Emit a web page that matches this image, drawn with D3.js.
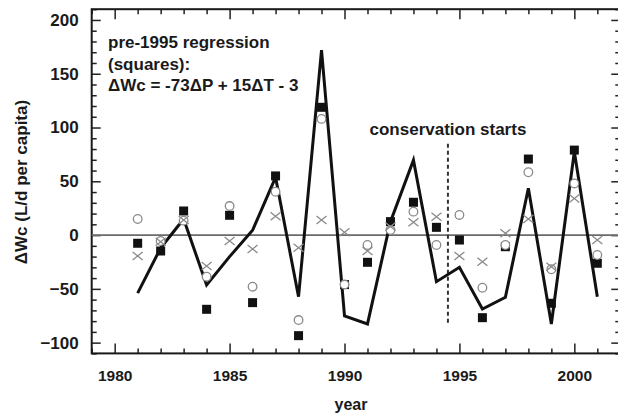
<!DOCTYPE html>
<html>
<head>
<meta charset="utf-8">
<script src="https://cdn.jsdelivr.net/npm/d3@7/dist/d3.min.js"></script>
<style>
  html, body { margin: 0; padding: 0; background: #fff; }
  svg { display: block; }
  text { font-family: "Liberation Sans", Arial, sans-serif; font-weight: bold; fill: #1a1a1a; }
</style>
</head>
<body>
<svg id="chart" width="618" height="415"></svg>
<script>
const years = [1981,1982,1983,1984,1985,1986,1987,1988,1989,1990,1991,1992,1993,1994,1995,1996,1997,1998,1999,2000,2001];
const squares = [-7.6,-14.8,22.4,-69,18.4,-62.8,55,-93.5,118.8,-46,-25.3,12.5,30.5,7.2,-4.6,-76.8,-10.8,70.7,-63.4,79,-26.2];
const circles = [15,-5.5,13.4,-38.7,27,-48,40.3,-79,108,-46,-9.2,4.7,21.8,-9.2,18.7,-48.9,-9.2,58.4,-31.8,48,-18.5];
const crosses = [-19.4,-6.1,14,-28.7,-5.5,-12.9,17.5,-11.7,14,2.6,-14.8,8,12,17,-19.4,-24.7,1.7,15,-29.4,34,-4.6];
const modelLine = [-54,-12,15,-46.4,-20,4.5,53.7,-57.3,172,-75.2,-82.6,12.5,69.7,-43.3,-30,-68.7,-57.8,43.5,-82.6,77.5,-57.3];
const xMajorTicks = [1980,1985,1990,1995,2000];
const yMajorTicks = [-100,-50,0,50,100,150,200];
const conservationYear = 1994.5;
const conservationSpan = [-84, 85];
const annotationLines = ["pre-1995 regression", "(squares):", "\u0394Wc = -73\u0394P + 15\u0394T - 3"];

const svg = d3.select("#chart");
const L = 91.7, R = 620.3, T = 9.2, B = 353.4;
const x = d3.scaleLinear().domain([1979, 2002]).range([L, R]);
const y = d3.scaleLinear().domain([-110, 210]).range([B, T]);

const xMinor = d3.range(1979, 2003).filter(v => !xMajorTicks.includes(v));
const yMinor = d3.range(-110, 211, 10).filter(v => !yMajorTicks.includes(v));

function styleAxis(g) {
  g.select(".domain").remove();
  g.selectAll(".tick line").attr("stroke", "#222").attr("stroke-width", 1.5);
  g.selectAll(".tick text").style("font-size", "16px").attr("fill", "#1a1a1a");
}

// bottom
svg.append("g").attr("transform", `translate(0,${B})`)
  .call(d3.axisBottom(x).tickValues(xMajorTicks).tickFormat(d3.format("d")).tickSize(-10).tickPadding(17))
  .call(styleAxis)
  .call(g => g.selectAll(".tick text").style("font-size", "15.5px"));
svg.append("g").attr("transform", `translate(0,${B})`)
  .call(d3.axisBottom(x).tickValues(xMinor).tickFormat("").tickSize(-5))
  .call(styleAxis);
// top
svg.append("g").attr("transform", `translate(0,${T})`)
  .call(d3.axisTop(x).tickValues(xMajorTicks).tickFormat("").tickSize(-10))
  .call(styleAxis);
svg.append("g").attr("transform", `translate(0,${T})`)
  .call(d3.axisTop(x).tickValues(xMinor).tickFormat("").tickSize(-5))
  .call(styleAxis);
// left
svg.append("g").attr("transform", `translate(${L},0)`)
  .call(d3.axisLeft(y).tickValues(yMajorTicks).tickFormat(d3.format("d")).tickSize(-9).tickPadding(13))
  .call(styleAxis)
  .call(g => g.selectAll(".tick text").style("font-size", "17px"));
svg.append("g").attr("transform", `translate(${L},0)`)
  .call(d3.axisLeft(y).tickValues(yMinor).tickFormat("").tickSize(-5))
  .call(styleAxis);
// right
svg.append("g").attr("transform", `translate(${R},0)`)
  .call(d3.axisRight(y).tickValues(yMajorTicks).tickFormat("").tickSize(-9))
  .call(styleAxis);
svg.append("g").attr("transform", `translate(${R},0)`)
  .call(d3.axisRight(y).tickValues(yMinor).tickFormat("").tickSize(-5))
  .call(styleAxis);

// frame
svg.append("rect").attr("x", L).attr("y", T).attr("width", R - L).attr("height", B - T)
  .attr("fill", "none").attr("stroke", "#1a1a1a").attr("stroke-width", 2);

// zero line
svg.append("line").attr("x1", L).attr("x2", R).attr("y1", y(0)).attr("y2", y(0))
  .attr("stroke", "#6a6a6a").attr("stroke-width", 1.6);

// conservation dashed line
svg.append("line").attr("x1", x(conservationYear)).attr("x2", x(conservationYear))
  .attr("y1", y(conservationSpan[1])).attr("y2", y(conservationSpan[0]))
  .attr("stroke", "#333").attr("stroke-width", 2).attr("stroke-dasharray", "4,3");

svg.append("text").attr("x", x(conservationYear)).attr("y", 135).attr("text-anchor", "middle")
  .style("font-size", "17px").text("conservation starts");

// annotation
annotationLines.forEach((t, i) => {
  svg.append("text").attr("x", 108).attr("y", 48 + i * 21.5).style("font-size", "17px").text(t);
});

// squares
const sq = 9;
svg.append("g").selectAll("rect").data(years.map((yr, i) => [yr, squares[i]])).join("rect")
  .attr("x", d => x(d[0]) - sq / 2).attr("y", d => y(d[1]) - sq / 2)
  .attr("width", sq).attr("height", sq).attr("fill", "#111");

// line
svg.append("path").datum(years.map((yr, i) => [yr, modelLine[i]]))
  .attr("fill", "none").attr("stroke", "#111").attr("stroke-width", 3).attr("stroke-linejoin", "miter")
  .attr("d", d3.line().x(d => x(d[0])).y(d => y(d[1])));

// circles
svg.append("g").selectAll("circle").data(years.map((yr, i) => [yr, circles[i]])).join("circle")
  .attr("cx", d => x(d[0])).attr("cy", d => y(d[1])).attr("r", 4.3)
  .attr("fill", "#fff").attr("stroke", "#8a8a8a").attr("stroke-width", 1.3);

// crosses
const cs = 5;
svg.append("g").selectAll("path").data(years.map((yr, i) => [yr, crosses[i]])).join("path")
  .attr("d", d => {
    const cx = x(d[0]), cy = y(d[1]);
    return `M${cx - cs},${cy - cs * 0.8}L${cx + cs},${cy + cs * 0.8}M${cx - cs},${cy + cs * 0.8}L${cx + cs},${cy - cs * 0.8}`;
  })
  .attr("stroke", "#8a8a8a").attr("stroke-width", 1.3).attr("fill", "none");

// axis titles
svg.append("text").attr("x", (L + R - 2) / 2 - 4).attr("y", 410).attr("text-anchor", "middle")
  .style("font-size", "16px").text("year");
svg.append("text").attr("transform", "translate(27,182) rotate(-90)").attr("text-anchor", "middle")
  .style("font-size", "17px").text("\u0394Wc (L/d per capita)");
</script>
</body>
</html>
